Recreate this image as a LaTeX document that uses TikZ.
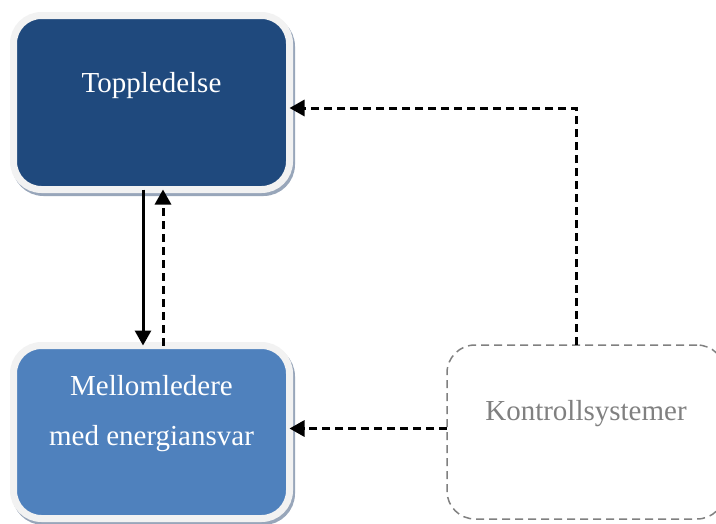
\documentclass[tikz,border=0pt]{standalone}
\usepackage{fontspec}
\setmainfont{Liberation Serif}
\usetikzlibrary{arrows.meta,shadows}

\definecolor{topblue}{RGB}{31,73,125}
\definecolor{midblue}{RGB}{79,129,189}
\definecolor{rimgray}{RGB}{242,242,242}
\definecolor{shadegray}{RGB}{152,166,186}
\definecolor{ctrlgray}{RGB}{128,128,128}

\tikzset{
  level/.style={rectangle, rounded corners=28pt, draw=rimgray, line width=7pt,
    text=white, minimum width=276pt, inner sep=0pt, outer sep=0pt, align=center,
    font=\fontsize{29}{50}\selectfont,
    drop shadow={shadow xshift=2pt, shadow yshift=-3pt, opacity=1,
      fill=shadegray, draw=shadegray, line width=7pt}},
  system/.style={rectangle, rounded corners=28pt, draw=ctrlgray, line width=1.5pt,
    dash pattern=on 8pt off 5pt, text=ctrlgray, minimum width=278pt,
    inner sep=0pt, outer sep=0pt, font=\fontsize{29}{50}\selectfont},
  link/.style={line width=3pt, -{Triangle[width=16pt,length=15pt]}},
  dashlink/.style={link, dash pattern=on 8pt off 5pt}
}

\begin{document}
\begin{tikzpicture}[x=1pt,y=-1pt]
\useasboundingbox (0,0) rectangle (716,523);

\node[level, fill=topblue, text height=76.5pt, text depth=97.5pt] (top) at (151.5,102.5) {Toppledelse};
\node[level, fill=midblue, text height=99.5pt, text depth=73.5pt] (mid) at (151.5,432) {Mellomledere\\med energiansvar};
\node[system, text height=75pt, text depth=99pt] (ctrl) at (586,432) {Kontrollsystemer};

\draw[link] ([xshift=-8.5pt]top.south) -- ([xshift=-8.5pt]mid.north);
\draw[dashlink] ([xshift=11.5pt]mid.north) -- ([xshift=11.5pt]top.south);
\draw[dashlink] ([xshift=-10pt]ctrl.north) |- ([yshift=-5.5pt]top.east);
\draw[dashlink] ([yshift=3.5pt]ctrl.west) -- ([yshift=3.5pt]mid.east);
\end{tikzpicture}
\end{document}
